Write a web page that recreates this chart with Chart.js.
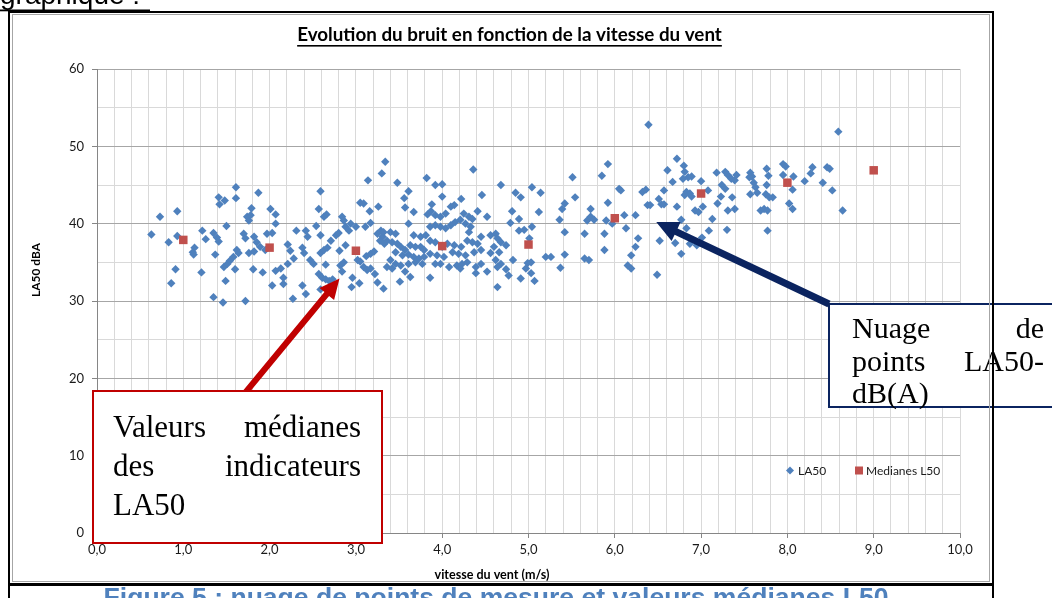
<!DOCTYPE html>
<html>
<head>
<meta charset="utf-8">
<script src="https://cdn.jsdelivr.net/npm/chart.js@4.4.1/dist/chart.umd.min.js"></script>
<style>
html,body{margin:0;padding:0;background:#fff;}
#wrap{position:relative;width:1052px;height:598px;overflow:hidden;}
canvas{display:block;}
</style>
</head>
<body>
<div id="wrap"><canvas id="c" width="1052" height="598"></canvas></div>
<script>
// ---- DATA ----
const chartTitle = 'Evolution du bruit en fonction de la vitesse du vent';
const xAxisTitle = 'vitesse du vent (m/s)';
const yAxisTitle = 'LA50 dBA';
const captionText = 'Figure 5 : nuage de points de mesure et valeurs médianes L50';
const headerText = 'graphique :';
const redNote = [['Valeurs', 'médianes'], ['des', 'indicateurs'], ['LA50']];
const navyNote = [['Nuage', 'de'], ['points', 'LA50-'], ['dB(A)']];

const xTickValues = [0, 1, 2, 3, 4, 5, 6, 7, 8, 9, 10];
const xTickLabels = ['0,0', '1,0', '2,0', '3,0', '4,0', '5,0', '6,0', '7,0', '8,0', '9,0', '10,0'];
const yTickValues = [0, 10, 20, 30, 40, 50, 60];
const yTickLabels = ['0', '10', '20', '30', '40', '50', '60'];

// wind speed (m/s) of each measured LA50 point
const windSpeed = [
0.63,0.73,0.93,0.83,0.93,0.91,0.86,1.13,1.11,1.12,
1.22,1.26,1.21,1.37,1.35,1.39,1.41,1.35,1.46,1.41,
1.42,1.48,1.61,1.61,1.50,1.49,1.47,1.51,1.54,1.58,
1.60,1.62,1.64,1.70,1.72,1.74,1.76,1.78,1.79,1.87,
1.72,1.82,1.85,1.89,1.76,1.82,1.81,1.92,2.01,2.07,
2.07,1.97,2.03,1.95,2.07,2.13,2.03,2.16,2.16,2.21,
2.24,2.28,2.21,2.27,2.31,2.38,2.40,2.42,2.44,2.38,
2.42,2.47,2.51,2.54,2.57,2.59,2.59,2.63,2.66,2.65,
2.57,2.59,2.63,2.67,2.61,2.65,2.69,2.73,2.59,2.71,
2.77,2.80,2.81,2.84,2.86,2.88,2.92,2.82,2.86,2.84,
2.88,2.94,3.00,2.96,2.95,3.04,3.02,3.05,3.09,3.13,
3.17,3.05,3.09,3.11,3.14,3.16,3.17,3.26,3.30,3.34,
3.12,3.17,3.21,3.25,3.29,3.31,3.33,3.22,3.25,3.32,
3.36,3.36,
3.48,3.61,3.56,3.57,3.67,3.82,3.92,4.00,4.00,3.88,
3.83,3.87,3.92,3.98,4.04,4.10,4.14,4.22,4.36,4.46,
4.41,4.25,4.31,4.35,4.52,3.61,3.32,3.40,3.46,3.28,
3.42,3.48,3.52,3.57,3.63,3.69,3.75,3.79,3.46,3.54,
3.61,3.67,3.73,3.79,3.40,3.46,3.52,3.61,3.69,3.77,
3.42,3.57,3.63,3.51,3.86,3.67,3.75,3.81,3.86,3.92,
3.98,4.04,4.10,4.15,4.21,4.27,4.33,4.31,3.86,3.92,
4.00,4.06,4.14,4.22,4.29,4.35,4.41,4.45,3.86,3.94,
4.02,4.12,4.19,4.27,4.37,4.45,3.92,3.98,4.08,4.17,
4.23,4.29,4.39,4.45,4.21,4.39,4.52,4.64,4.56,4.62,
4.64,4.68,4.74,4.60,4.66,4.56,4.62,4.68,4.64,4.74,
4.77,4.82,4.91,4.68,4.79,4.81,4.85,4.91,4.89,4.89,
4.95,5.04,5.14,5.12,5.04,5.01,4.99,5.03,4.97,5.03,
5.07,5.20,5.26,5.37,5.42,5.42,5.36,5.39,5.42,5.51,
5.54,5.65,5.65,5.70,5.68,5.72,5.76,5.72,5.85,5.92,
5.92,5.88,5.88,5.90,5.97,6.05,6.07,6.11,6.13,6.15,
6.19,6.19,6.24,6.27,6.24,6.32,6.36,6.38,6.41,6.49,
6.39,6.52,6.51,6.54,6.57,6.57,6.61,6.67,6.70,6.72,
6.72,
6.80,6.81,6.85,6.79,6.89,7.00,6.83,6.87,6.89,6.81,
7.08,6.77,6.83,6.77,6.87,6.95,7.01,6.93,6.97,7.02,
7.09,7.13,7.18,7.28,7.31,7.35,7.39,7.41,7.24,7.28,
7.23,7.36,7.19,7.31,7.39,7.30,7.57,7.59,7.56,7.61,
7.63,7.65,7.57,7.69,7.73,7.77,7.75,7.79,7.83,7.77,
7.76,7.78,7.76,7.95,7.98,7.95,8.07,8.06,8.02,8.06,
8.20,8.27,8.29,8.41,8.46,8.49,8.52,8.59,8.64
];
// LA50 level (dBA) of each point, same order
const la50 = [
38.6,40.9,41.6,37.6,38.4,34.1,32.3,36.9,36.3,36.0,
39.1,38.0,33.7,36.0,38.8,38.2,37.7,30.5,29.8,43.4,
42.5,43.0,44.7,43.3,39.7,32.6,34.4,34.8,35.2,35.7,
34.1,36.6,36.2,38.7,38.1,40.9,40.4,41.1,42.0,44.0,
30.0,38.3,37.6,37.0,36.2,36.4,34.1,33.7,41.9,41.2,
40.0,38.7,38.8,36.6,33.9,34.2,32.0,33.0,32.2,37.3,
36.5,35.5,34.8,30.3,39.1,36.9,36.2,39.1,38.3,32.0,
30.9,35.3,34.8,39.7,41.9,44.2,38.5,40.9,41.2,34.7,
33.5,36.2,36.6,36.9,33.0,32.8,32.6,32.8,31.5,37.8,
38.5,38.8,36.5,40.9,40.4,39.6,39.1,34.6,35.0,33.8,
37.2,40.0,39.6,33.0,31.8,32.3,35.3,35.1,34.4,34.0,
34.2,42.7,42.6,39.6,45.6,41.6,40.1,42.2,46.5,48.0,
35.8,36.1,36.4,38.7,39.1,38.3,37.4,33.5,32.4,31.6,
34.4,37.8,
45.3,44.2,43.3,42.1,41.5,45.9,45.0,45.1,43.5,42.5,
41.2,41.6,41.1,40.9,41.3,42.2,42.4,43.2,47.0,43.7,
41.6,41.3,40.9,40.6,40.9,40.0,38.9,38.9,38.7,37.8,
37.6,37.4,37.0,36.6,37.2,37.0,37.0,36.6,36.3,35.9,
36.0,35.7,35.5,35.7,35.3,34.8,34.6,34.8,35.0,34.8,
34.2,33.8,33.1,32.5,33.0,38.5,38.3,38.5,39.6,39.8,
39.6,39.4,39.8,40.2,40.5,40.0,39.6,38.9,37.8,37.6,
37.0,37.4,37.2,37.0,37.8,37.6,37.4,38.3,36.1,35.9,
35.7,36.3,36.1,35.9,36.3,36.6,34.8,34.8,34.4,34.6,
34.8,35.0,34.4,34.8,34.2,33.6,33.8,31.8,38.5,38.7,
38.1,37.6,37.2,37.0,36.3,36.2,35.3,34.8,34.4,34.1,
33.3,35.3,32.9,45.0,40.1,41.6,44.0,43.4,40.6,39.1,
39.2,44.7,44.0,41.5,39.6,38.1,34.9,35.0,34.2,33.6,
32.6,35.7,35.7,34.3,36.0,38.9,40.5,41.9,42.6,46.0,
43.4,38.7,35.5,35.3,40.4,40.9,40.5,41.9,46.2,47.7,
42.7,38.7,36.6,40.4,40.0,44.5,44.3,41.1,39.4,34.6,
34.2,35.9,37.0,38.1,41.1,44.1,44.4,42.4,42.4,33.4,
52.8,37.8,43.2,42.5,42.5,44.3,46.9,45.4,37.5,42.2,
48.4,
47.5,46.7,46.0,45.8,46.1,45.5,44.1,43.9,43.5,43.7,
44.3,40.5,39.4,36.1,37.4,37.2,38.2,41.7,41.5,42.2,
39.1,40.6,46.6,46.7,46.3,45.8,45.6,46.3,45.0,44.5,
43.5,43.4,42.6,41.7,41.9,39.2,46.6,46.1,46.0,45.3,
44.7,44.0,43.8,41.7,41.9,41.7,43.8,43.4,43.4,39.1,
47.1,46.2,45.0,47.7,47.4,46.3,46.1,44.4,42.6,41.9,
45.5,46.5,47.3,45.3,47.3,47.1,44.3,51.9,41.7
];
// median LA50 per wind-speed class
const medianSpeed = [1, 2, 3, 4, 5, 6, 7, 8, 9];
const medianLA50 = [37.9, 36.9, 36.5, 37.1, 37.3, 40.7, 43.9, 45.3, 46.9];

// arrow targets (data coordinates)
const redArrowTarget = {x: 2.81, y: 32.9};
const navyArrowTarget = {x: 6.48, y: 40.2};

// ---- STYLE ----
const BLUE = '#4f81bd', RED = '#c0504d';
const NOTE_RED = '#c00000', NOTE_NAVY = '#0b2460';
const UI_FONT = 'Lato, "Open Sans", sans-serif';

function near(v, arr) { return arr.findIndex(a => Math.abs(a - v) < 1e-6); }

function fitFont(ctx, text, weight, family, target) {
  ctx.font = weight + ' 100px ' + family;
  const w = ctx.measureText(text).width;
  return 100 * target / w;
}

function arrow(ctx, x0, y0, x1, y1, w, hw, hl, color) {
  const a = Math.atan2(y1 - y0, x1 - x0), L = Math.hypot(x1 - x0, y1 - y0);
  ctx.save();
  ctx.translate(x0, y0); ctx.rotate(a);
  ctx.fillStyle = color;
  ctx.beginPath();
  ctx.moveTo(0, -w / 2); ctx.lineTo(L - hl, -w / 2); ctx.lineTo(L - hl, -hw / 2);
  ctx.lineTo(L, 0); ctx.lineTo(L - hl, hw / 2); ctx.lineTo(L - hl, w / 2); ctx.lineTo(0, w / 2);
  ctx.closePath(); ctx.fill();
  ctx.restore();
}

function justified(ctx, words, left, right, y) {
  ctx.textAlign = 'left';
  if (words.length === 1) { ctx.fillText(words[0], left, y); return; }
  ctx.fillText(words[0], left, y);
  ctx.textAlign = 'right';
  ctx.fillText(words[words.length - 1], right, y);
  ctx.textAlign = 'left';
}

const deco = {
  id: 'deco',
  afterDraw(chart) {
    const ctx = chart.ctx, xs = chart.scales.x, ys = chart.scales.y;
    ctx.save();

    // chart title (underlined)
    let fs = fitFont(ctx, chartTitle, 'bold', UI_FONT, 425);
    ctx.font = 'bold ' + fs + 'px ' + UI_FONT;
    ctx.fillStyle = '#000';
    ctx.textAlign = 'center'; ctx.textBaseline = 'alphabetic';
    ctx.fillText(chartTitle, 509.5, 41);
    const tw = ctx.measureText(chartTitle).width;
    ctx.fillRect(509.5 - tw / 2, 45, tw, 1.6);

    // axis titles
    fs = fitFont(ctx, xAxisTitle, 'bold', UI_FONT, 115);
    ctx.font = 'bold ' + fs + 'px ' + UI_FONT;
    ctx.fillText(xAxisTitle, 492, 579);
    fs = fitFont(ctx, yAxisTitle, 'bold', UI_FONT, 54);
    ctx.font = 'bold ' + fs + 'px ' + UI_FONT;
    ctx.save(); ctx.translate(39.5, 270); ctx.rotate(-Math.PI / 2);
    ctx.fillText(yAxisTitle, 0, 0); ctx.restore();

    // legend (from dataset definitions)
    const ds = chart.data.datasets;
    ctx.font = '12px ' + UI_FONT; ctx.fillStyle = '#1a1a1a';
    ctx.textAlign = 'left'; ctx.textBaseline = 'middle';
    const ly = 470.5;
    ctx.fillStyle = ds[0].backgroundColor;
    ctx.beginPath(); ctx.moveTo(786, ly); ctx.lineTo(790, ly - 4); ctx.lineTo(794, ly); ctx.lineTo(790, ly + 4); ctx.closePath(); ctx.fill();
    ctx.fillStyle = '#1a1a1a'; ctx.fillText(ds[0].label, 798, ly + 0.5);
    ctx.fillStyle = ds[1].backgroundColor; ctx.fillRect(855, ly - 4, 8, 8);
    ctx.fillStyle = '#1a1a1a'; ctx.fillText(ds[1].label, 866, ly + 0.5);

    // arrows (targets through the scales)
    arrow(ctx, 245, 393, xs.getPixelForValue(redArrowTarget.x), ys.getPixelForValue(redArrowTarget.y), 6, 19, 20, NOTE_RED);
    arrow(ctx, 829, 304, xs.getPixelForValue(navyArrowTarget.x), ys.getPixelForValue(navyArrowTarget.y), 7, 21, 22, NOTE_NAVY);

    // note boxes
    ctx.fillStyle = '#fff'; ctx.fillRect(93, 391, 289, 152);
    ctx.strokeStyle = NOTE_RED; ctx.lineWidth = 2; ctx.strokeRect(93, 391, 289, 152);
    ctx.fillStyle = '#fff'; ctx.fillRect(829, 304, 230, 103);
    ctx.strokeStyle = NOTE_NAVY; ctx.lineWidth = 2; ctx.strokeRect(829, 304, 230, 103);
    ctx.fillStyle = '#000'; ctx.textBaseline = 'alphabetic';
    ctx.font = '31px "Liberation Serif", "DejaVu Serif", serif';
    justified(ctx, redNote[0], 113, 361, 437);
    justified(ctx, redNote[1], 113, 361, 476);
    justified(ctx, redNote[2], 113, 361, 515);
    ctx.font = '30px "Liberation Serif", "DejaVu Serif", serif';
    justified(ctx, navyNote[0], 852, 1044, 338);
    justified(ctx, navyNote[1], 852, 1044, 371);
    justified(ctx, navyNote[2], 852, 1044, 403);

    // document frame
    ctx.strokeStyle = '#a6a6a6'; ctx.lineWidth = 1; ctx.strokeRect(12.5, 14.5, 977, 567);
    ctx.fillStyle = '#000';
    ctx.fillRect(8, 11, 986, 2);
    ctx.fillRect(8, 11, 2, 587);
    ctx.fillRect(992, 11, 2, 587);
    ctx.fillRect(8, 583, 986, 3);

    // header text above the frame
    ctx.font = '28px "Liberation Sans", Arial, sans-serif';
    ctx.textAlign = 'left'; ctx.fillStyle = '#000';
    ctx.fillText(headerText, 0, 4);
    ctx.fillRect(0, 9.5, 150, 1.8);

    // caption below the frame
    fs = fitFont(ctx, captionText, 'bold', '"Liberation Sans", Arial, sans-serif', 785);
    ctx.font = 'bold ' + fs + 'px "Liberation Sans", Arial, sans-serif';
    ctx.textAlign = 'center'; ctx.fillStyle = '#4f81bd';
    ctx.fillText(captionText, 496, 606);

    ctx.restore();
  }
};

const scatterData = windSpeed.map((x, i) => ({x: x, y: la50[i]}));
const medianData = medianSpeed.map((x, i) => ({x: x, y: medianLA50[i]}));

new Chart(document.getElementById('c'), {
  type: 'scatter',
  data: {
    datasets: [
      {label: 'LA50', data: scatterData, pointStyle: 'rectRot', radius: 4.2, hoverRadius: 4.2,
       backgroundColor: BLUE, borderColor: BLUE, borderWidth: 0, order: 2},
      {label: 'Medianes L50', data: medianData, pointStyle: 'rect', radius: 6, hoverRadius: 6,
       backgroundColor: RED, borderColor: RED, borderWidth: 0, order: 1}
    ]
  },
  options: {
    responsive: false,
    animation: false,
    devicePixelRatio: 1,
    layout: {padding: {left: 27, right: 92, top: 69, bottom: 15}},
    plugins: {legend: {display: false}, title: {display: false}, tooltip: {enabled: false}},
    scales: {
      x: {
        type: 'linear', min: 0, max: 10,
        afterFit: s => { s.height = 50; },
        border: {color: '#868686', width: 1},
        grid: {
          color: '#d9d9d9', lineWidth: 1, tickLength: 5,
          tickColor: c => near(c.tick.value, xTickValues) >= 0 ? '#868686' : 'rgba(0,0,0,0)'
        },
        ticks: {
          stepSize: 0.2, autoSkip: false, maxRotation: 0, padding: 4,
          font: {family: UI_FONT, size: 13}, color: '#1a1a1a',
          callback: v => { const i = near(v, xTickValues); return i >= 0 ? xTickLabels[i] : ''; }
        }
      },
      y: {
        type: 'linear', min: 0, max: 60,
        afterFit: s => { s.width = 70; },
        border: {color: '#868686', width: 1},
        grid: {
          color: c => near(c.tick.value, yTickValues) >= 0 ? '#a6a6a6' : '#d9d9d9',
          lineWidth: 1, tickLength: 5,
          tickColor: c => near(c.tick.value, yTickValues) >= 0 ? '#868686' : 'rgba(0,0,0,0)'
        },
        ticks: {
          stepSize: 5, autoSkip: false, padding: 8,
          font: {family: UI_FONT, size: 13}, color: '#1a1a1a',
          callback: v => { const i = near(v, yTickValues); return i >= 0 ? yTickLabels[i] : ''; }
        }
      }
    }
  },
  plugins: [deco]
});
</script>
</body>
</html>
